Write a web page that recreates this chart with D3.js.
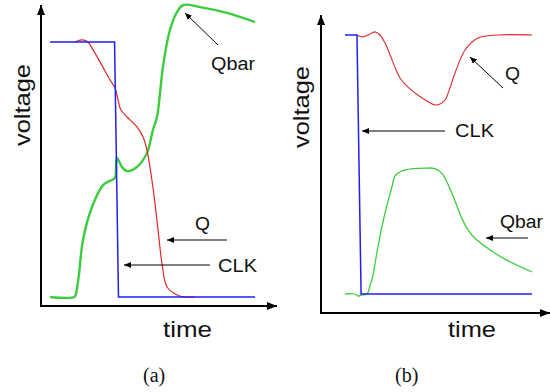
<!DOCTYPE html>
<html>
<head>
<meta charset="utf-8">
<script src="https://cdn.jsdelivr.net/npm/d3@7"></script>
<style>
  html, body { margin: 0; padding: 0; background: #fff; }
  svg { display: block; }
  .lbl { font-family: "Liberation Sans", Arial, sans-serif; fill: #111; }
  .cap { font-family: "Liberation Serif", "Times New Roman", serif; fill: #111; }
</style>
</head>
<body>
<svg id="chart"></svg>
<script>
// time in % of the trace width, voltage as fraction of the logic-high level

// panel (a)
const clkA = [[0, 1], [31.5, 1], [33.4, 0], [100, 0]];
const qA = [
  [12.2, 1], [15.6, 1.008], [18.5, 1.0], [21.0, 0.969], [24.4, 0.922],
  [29.3, 0.851], [31.7, 0.82], [33.2, 0.773], [34.6, 0.733], [37.6, 0.706],
  [42.4, 0.667], [45.4, 0.627], [47.3, 0.576], [50.2, 0.431], [52.7, 0.263],
  [54.6, 0.133], [57.1, 0.039], [62.0, 0.008], [65.9, 0], [70.7, 0]
];
const qbarA = [
  [0, 0], [11.8, 0], [12.6, 0.01], [13.3, 0.04], [14.1, 0.086], [16.1, 0.224],
  [20.5, 0.353], [25.9, 0.439], [30.2, 0.459], [31.7, 0.467], [32.7, 0.545],
  [35.1, 0.51], [37.6, 0.494], [42.4, 0.51], [47.3, 0.565], [50.2, 0.655],
  [52.2, 0.706], [55.1, 0.902], [58.5, 1.047], [62.0, 1.118], [64.9, 1.145],
  [73.2, 1.137], [86.3, 1.114], [100, 1.078]
];

// panel (b)
const clkB = [[0, 1], [6.4, 1], [8.6, 0], [100, 0]];
const qB = [
  [6.4, 1.0], [9.1, 0.992], [12.3, 1.0], [16.0, 1.012], [18.7, 1.0], [21.4, 0.969],
  [24.1, 0.923], [26.7, 0.876], [29.4, 0.834], [33.7, 0.799], [41.2, 0.757],
  [48.1, 0.73], [50.8, 0.734], [53.5, 0.749], [56.1, 0.795], [58.8, 0.853],
  [64.2, 0.942], [71.1, 0.988], [81.8, 1.0], [100, 1.0]
];
const qbarB = [
  [0, 0], [5.3, 0], [7.0, -0.008], [8.6, -0.004], [11.8, 0], [13.4, 0.035],
  [14.4, 0.054], [17.6, 0.181], [21.4, 0.313], [25.1, 0.413], [26.7, 0.456],
  [29.4, 0.471], [32.1, 0.479], [42.8, 0.486], [48.1, 0.484], [51.9, 0.465],
  [55.0, 0.425], [58.8, 0.36], [62.6, 0.29], [66.0, 0.245], [69.5, 0.215],
  [78.6, 0.165], [87.2, 0.128], [100, 0.085]
];

const axisLabels = ['voltage', 'time'];
const captions = ['(a)', '(b)'];

const width = 550, height = 392;
const svg = d3.select('#chart').attr('width', width).attr('height', height);

const defs = svg.append('defs');
defs.append('marker')
  .attr('id', 'bigHead')
  .attr('viewBox', '0 0 10 8')
  .attr('refX', 10).attr('refY', 4)
  .attr('markerWidth', 10).attr('markerHeight', 8)
  .attr('markerUnits', 'userSpaceOnUse')
  .attr('orient', 'auto')
  .append('path').attr('d', 'M0,0L10,4L0,8Z').attr('fill', '#000');
defs.append('marker')
  .attr('id', 'smallHead')
  .attr('viewBox', '0 0 7 6')
  .attr('refX', 7).attr('refY', 3)
  .attr('markerWidth', 7).attr('markerHeight', 6)
  .attr('markerUnits', 'userSpaceOnUse')
  .attr('orient', 'auto')
  .append('path').attr('d', 'M0,0L7,3L0,6Z').attr('fill', '#000');

const panels = [
  {
    origin: [41, 306], xEnd: 277, yTop: 5,
    x: d3.scaleLinear().domain([0, 100]).range([50, 255]),
    y: d3.scaleLinear().domain([0, 1]).range([297, 42]),
    clk: clkA, q: qA, qbar: qbarA, qbarWidth: 2.4, qWidth: 1.2,
    voltage: [30, 105], time: [163, 337, 49], caption: [143, 382, captions[0]],
    notes: [
      { text: 'Qbar', tx: 211, ty: 70, tl: 44, from: [218, 45], to: [185, 13] },
      { text: 'Q', tx: 195, ty: 230, tl: 15, from: [227, 240], to: [167, 240] },
      { text: 'CLK', tx: 218, ty: 272, tl: 39, from: [210, 265], to: [124, 265] }
    ]
  },
  {
    origin: [321, 313], xEnd: 550, yTop: 15,
    x: d3.scaleLinear().domain([0, 100]).range([345, 532]),
    y: d3.scaleLinear().domain([0, 1]).range([294, 35]),
    clk: clkB, q: qB, qbar: qbarB, qbarWidth: 1.3, qWidth: 1.1,
    voltage: [309, 107], time: [448, 337, 48], caption: [395, 382, captions[1]],
    notes: [
      { text: 'Q', tx: 505, ty: 80, tl: 15, from: [503, 88], to: [470, 57] },
      { text: 'CLK', tx: 455, ty: 137, tl: 39, from: [445, 131], to: [362, 131] },
      { text: 'Qbar', tx: 500, ty: 228, tl: 43, from: [528, 238], to: [486, 238] }
    ]
  }
];

panels.forEach((p) => {
  const g = svg.append('g');
  const [ox, oy] = p.origin;

  // axes as arrows
  g.append('line')
    .attr('x1', ox).attr('y1', oy).attr('x2', ox).attr('y2', p.yTop)
    .attr('stroke', '#000').attr('stroke-width', 2)
    .attr('marker-end', 'url(#bigHead)');
  g.append('line')
    .attr('x1', ox - 1).attr('y1', oy).attr('x2', p.xEnd).attr('y2', oy)
    .attr('stroke', '#000').attr('stroke-width', 2)
    .attr('marker-end', 'url(#bigHead)');

  const smooth = d3.line().x((d) => p.x(d[0])).y((d) => p.y(d[1])).curve(d3.curveCatmullRom.alpha(0.5));
  const straight = d3.line().x((d) => p.x(d[0])).y((d) => p.y(d[1]));

  g.append('path').datum(p.qbar).attr('d', smooth)
    .attr('fill', 'none').attr('stroke', '#3ccc3c').attr('stroke-width', p.qbarWidth);
  g.append('path').datum(p.q).attr('d', smooth)
    .attr('fill', 'none').attr('stroke', '#e02828').attr('stroke-width', p.qWidth);
  g.append('path').datum(p.clk).attr('d', straight)
    .attr('fill', 'none').attr('stroke', '#2020ee').attr('stroke-width', 1.5);

  // labels
  g.append('text').attr('class', 'lbl')
    .attr('transform', `translate(${p.voltage[0]},${p.voltage[1]}) rotate(-90)`)
    .attr('text-anchor', 'middle')
    .attr('font-size', 22)
    .attr('textLength', 82).attr('lengthAdjust', 'spacingAndGlyphs')
    .text(axisLabels[0]);
  g.append('text').attr('class', 'lbl')
    .attr('x', p.time[0]).attr('y', p.time[1])
    .attr('font-size', 22)
    .attr('textLength', p.time[2]).attr('lengthAdjust', 'spacingAndGlyphs')
    .text(axisLabels[1]);
  g.append('text').attr('class', 'cap')
    .attr('x', p.caption[0]).attr('y', p.caption[1])
    .attr('font-size', 20)
    .text(p.caption[2]);

  p.notes.forEach((n) => {
    g.append('line')
      .attr('x1', n.from[0]).attr('y1', n.from[1]).attr('x2', n.to[0]).attr('y2', n.to[1])
      .attr('stroke', '#000').attr('stroke-width', 1)
      .attr('marker-end', 'url(#smallHead)');
    g.append('text').attr('class', 'lbl')
      .attr('x', n.tx).attr('y', n.ty)
      .attr('font-size', 18)
      .attr('textLength', n.tl).attr('lengthAdjust', 'spacingAndGlyphs')
      .text(n.text);
  });
});
</script>
</body>
</html>
